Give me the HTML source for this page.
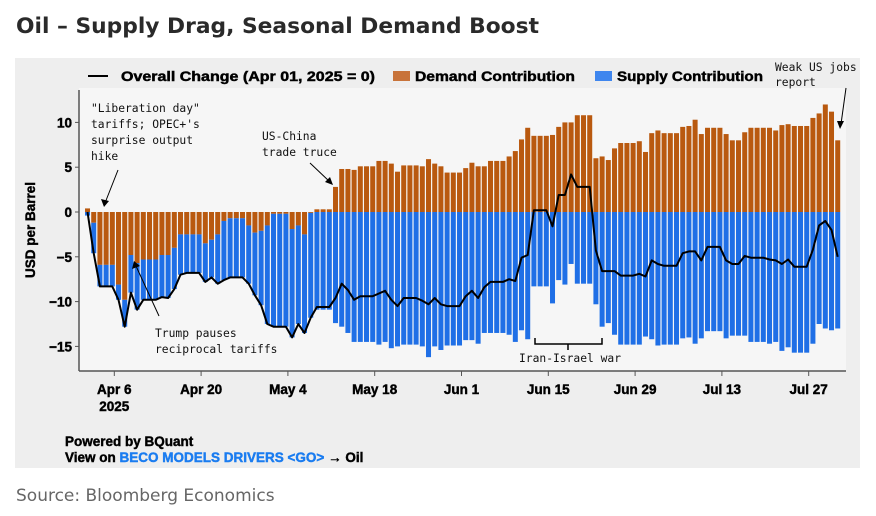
<!DOCTYPE html>
<html><head><meta charset="utf-8">
<style>
html,body{margin:0;padding:0;background:#fff;width:876px;height:516px;overflow:hidden}
svg{display:block}
.b{font-family:"Liberation Sans",Arial,sans-serif;font-weight:bold;font-size:13.5px;fill:#000;stroke:#000;stroke-width:0.45px}
.m{font-family:"DejaVu Sans Mono","Liberation Mono",monospace;font-size:11.3px;fill:#111}
</style></head><body>
<svg id="chart" width="876" height="516" viewBox="0 0 876 516">
<text x="16" y="33" font-family="DejaVu Sans, sans-serif" font-weight="bold" font-size="21" fill="#2a2a2a" textLength="523" lengthAdjust="spacingAndGlyphs">Oil – Supply Drag, Seasonal Demand Boost</text>
<rect x="15" y="58" width="845" height="410" fill="#eeeeee"/>
<rect x="79" y="88" width="767" height="283" fill="#f6f6f6"/>
<g>
 <line x1="88" y1="76" x2="108" y2="76" stroke="#000" stroke-width="2"/>
 <text class="b" x="121" y="81" textLength="254" lengthAdjust="spacingAndGlyphs">Overall Change (Apr 01, 2025 = 0)</text>
 <rect x="393" y="71" width="17" height="10" fill="#c8733a"/>
 <text class="b" x="415" y="81" textLength="160" lengthAdjust="spacingAndGlyphs">Demand Contribution</text>
 <rect x="595" y="71" width="17" height="10" fill="#3f86ee"/>
 <text class="b" x="617" y="81" textLength="146" lengthAdjust="spacingAndGlyphs">Supply Contribution</text>
</g>
<g id="bars"></g>
<g id="axes"></g>
<path id="overall" fill="none" stroke="#000" stroke-width="2" stroke-linejoin="round"/>
<text class="b" transform="translate(35,230) rotate(-90)" text-anchor="middle" font-size="14">USD per Barrel</text>
<g>
 <text class="m" x="91" y="112">"Liberation day"</text>
 <text class="m" x="91" y="128">tariffs; OPEC+'s</text>
 <text class="m" x="91" y="144">surprise output</text>
 <text class="m" x="91" y="160">hike</text>
 <line x1="118" y1="170" x2="105" y2="203" stroke="#000" stroke-width="1"/>
 <path d="M101 199 L104 207 L109 201 Z" fill="#000"/>
</g>
<g>
 <text class="m" x="262" y="140">US-China</text>
 <text class="m" x="262" y="156">trade truce</text>
 <line x1="310" y1="163" x2="330" y2="182" stroke="#000" stroke-width="1"/>
 <path d="M325 182 L333 185 L330 177 Z" fill="#000"/>
</g>
<g>
 <text class="m" x="155" y="337">Trump pauses</text>
 <text class="m" x="155" y="353">reciprocal tariffs</text>
 <line x1="159" y1="316" x2="136" y2="266" stroke="#000" stroke-width="1"/>
 <path d="M132 269 L134 261 L140 266 Z" fill="#000"/>
</g>
<g>
 <path d="M535 338 L535 344 L602 344 L602 338 M568 344 L568 350" fill="none" stroke="#000" stroke-width="1.5"/>
 <text class="m" x="570" y="362" text-anchor="middle">Iran-Israel war</text>
</g>
<g>
 <text class="m" x="775" y="71">Weak US jobs</text>
 <text class="m" x="775" y="86">report</text>
 <line x1="846" y1="88" x2="841" y2="124" stroke="#000" stroke-width="1"/>
 <path d="M837 121 L840 129 L844 121 Z" fill="#000"/>
</g>
<text class="b" x="65" y="446">Powered by BQuant</text>
<text class="b" x="65" y="462">View on <tspan fill="#1a7cf0" stroke="#1a7cf0">BECO MODELS DRIVERS &lt;GO&gt;</tspan> → Oil</text>
<text x="16" y="501" font-family="DejaVu Sans, sans-serif" font-size="17" fill="#666">Source: Bloomberg Economics</text>
</svg>
<script>
var demand = [0.4,-1.2,-5.9,-5.9,-5.9,-8.1,-9.8,-4.8,-5.7,-5.3,-5.3,-5.3,-4.8,-4.8,-4.0,-2.5,-2.5,-2.5,-2.5,-3.5,-3.1,-2.5,-1.0,-0.7,-0.7,-0.7,-1.5,-2.3,-2.1,-1.5,-0.2,-0.2,-0.2,-1.9,-1.5,-2.5,-0.1,0.3,0.3,0.3,
2.8,4.8,4.8,4.7,5.1,5.1,5.1,5.7,5.7,5.4,4.5,5.2,5.2,5.2,5.1,5.9,5.4,5.1,4.4,4.4,4.4,4.9,5.5,5.1,5.1,5.7,5.7,5.7,6.2,6.8,8.1,9.4,8.5,8.5,8.5,8.6,9.5,10.0,10.0,10.8,10.8,10.8,6.0,6.2,5.8,
7.1,7.7,7.7,7.7,7.9,6.7,8.8,9.1,8.8,8.8,8.8,9.5,9.6,10.3,8.7,9.4,9.4,9.4,8.7,8.0,8.0,8.9,9.4,9.4,9.4,9.4,9.1,9.7,9.8,9.6,9.6,9.6,10.5,11.0,12.0,11.2,8.0];
var overall = [0,-4.6,-8.3,-8.3,-8.3,-9.8,-12.8,-9.0,-10.9,-9.8,-9.8,-9.8,-9.5,-9.6,-8.6,-7.0,-6.8,-6.8,-6.8,-7.8,-7.3,-8.0,-7.6,-7.3,-7.3,-7.3,-8.0,-9.3,-10.4,-12.5,-12.8,-12.8,-12.8,-14.0,-12.5,-13.5,-11.8,-10.6,-10.6,-10.6,
-9.6,-8.0,-8.7,-9.8,-9.4,-9.4,-9.4,-9.1,-8.8,-9.8,-10.5,-9.6,-9.6,-9.6,-9.9,-10.3,-9.6,-10.3,-10.5,-10.5,-10.5,-9.4,-8.8,-9.6,-8.4,-7.8,-7.8,-7.8,-7.5,-7.7,-5.1,-4.8,0.2,0.2,0.2,-1.6,1.9,1.9,4.2,2.8,2.8,2.8,-4.3,-6.6,-6.6,
-6.6,-7.1,-7.1,-7.1,-6.9,-7.2,-5.4,-5.8,-6.0,-6.0,-6.0,-4.6,-4.4,-4.4,-5.4,-3.9,-3.9,-3.9,-5.4,-5.8,-5.8,-4.9,-5.1,-5.1,-5.1,-5.3,-5.4,-5.8,-5.3,-6.1,-6.1,-6.1,-4.2,-1.5,-1.0,-2.0,-5.0];
var yTicks = [10,5,0,-5,-10,-15];
var yTickLabels = ["10","5","0","\u22125","\u221210","\u221215"];
var xTickDays = [5,19,33,47,61,75,89,103,117];
var xTickLabels = ["Apr 6","Apr 20","May 4","May 18","Jun 1","Jun 15","Jun 29","Jul 13","Jul 27"];

var NS = "http://www.w3.org/2000/svg";
function xScale(d){ return 83.3 + 6.2*d; }
function yScale(v){ return 212 - 8.96*v; }
function mk(tag, attrs, parent){ var e=document.createElementNS(NS,tag); for(var k in attrs) e.setAttribute(k,attrs[k]); parent.appendChild(e); return e; }

var bars = document.getElementById('bars');
var pts = [];
for (var i=0;i<demand.length;i++){
  var cx = xScale(i+0.68), w = 5.0;
  var d = demand[i], o = overall[i], s = o - d;
  var y0 = yScale(0), yd = yScale(d);
  var r1 = mk('rect',{x:cx-w/2,y:Math.min(y0,yd),width:w,height:Math.max(0.01,Math.abs(yd-y0)),fill:'#b9590f'},bars);
  
  
  var base = Math.min(d,0);
  var yb = yScale(base), ys = yScale(base+s);
  var r2 = mk('rect',{x:cx-w/2,y:Math.min(yb,ys),width:w,height:Math.max(0.01,Math.abs(ys-yb)),fill:'#1f6fe6'},bars);
  
  
  pts.push(cx.toFixed(1)+','+yScale(o).toFixed(1));
}
document.getElementById('overall').setAttribute('d','M'+pts.join(' L'));

var ax = document.getElementById('axes');
var yl = mk('line',{x1:79,y1:90,x2:79,y2:371,stroke:'#555','stroke-width':1.5},ax);


var xl = mk('line',{x1:79,y1:371,x2:846,y2:371,stroke:'#555','stroke-width':1.5},ax);


for (var j=0;j<yTicks.length;j++){
  var yy = yScale(yTicks[j]);
  mk('line',{x1:75,y1:yy,x2:79,y2:yy,stroke:'#555','stroke-width':1},ax);
  var t = mk('text',{x:72,y:yy+5,'text-anchor':'end','class':'b'},ax);
  t.textContent = yTickLabels[j];
  
  
}
for (var k=0;k<xTickDays.length;k++){
  var xx = xScale(xTickDays[k]);
  mk('line',{x1:xx,y1:371,x2:xx,y2:376,stroke:'#555','stroke-width':1},ax);
  var tx = mk('text',{x:xx,y:394,'text-anchor':'middle','class':'b'},ax);
  tx.textContent = xTickLabels[k];
  
  
}
var yr = mk('text',{x:xScale(5),y:411,'text-anchor':'middle','class':'b'},ax);
yr.textContent = "2025";


</script>
</body></html>
